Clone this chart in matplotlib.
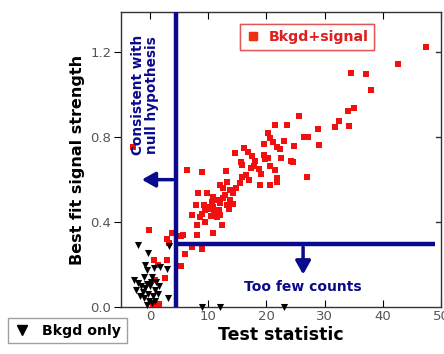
import matplotlib
matplotlib.use("Agg")
import matplotlib.pyplot as plt
from matplotlib.lines import Line2D

# Bkgd+signal points (test statistic, best fit signal strength)
sig_x = [47.4, 42.6, 34.5, 37.1, 38.0, 34.0, 35.1, 32.5, 31.8, 34.2, 28.9, 29.1,
         25.6, 23.5, 21.4, 26.5, 27.2, 20.2, 20.6, 21.1, 23.0, 24.8, 22.3, 21.8,
         14.6, 16.2, 16.9, 17.5, 19.5, 20.3, 24.3, 24.5, 15.6, 15.8, 17.3, 17.9,
         19.8, 20.6, 18.8, 19.0, 21.5, 21.8, 21.9, 20.6, 18.9, 26.9, 6.4, 8.9,
         13.0, 13.2, 15.8, 15.5, 12.0, 12.6, 13.7, 14.3, 8.3, 9.8, 10.9, 11.5,
         10.6, 12.6, 13.7, 7.9, 9.2, 10.0, 10.9, 12.0, 13.2, 14.2, 9.5, 10.3,
         7.2, 8.6, 9.5, 11.5, 12.3, 8.0, 10.9, 8.0, 5.7, 12.0, -2.9, -0.1,
         2.9, 3.7, 3.3, 5.4, 7.2, 8.9, 6.0, 5.3, 0.6, 2.9, 1.4, 2.6, 0.9, 1.6,
         0.5, 11.0, 11.8, 10.5, 9.0, 12.8, 13.5, 14.8, 16.5, 17.0, 18.0, 22.5, 19.5]
sig_y = [1.225, 1.147, 1.104, 1.098, 1.024, 0.924, 0.938, 0.875, 0.847, 0.852, 0.839, 0.765,
         0.899, 0.858, 0.858, 0.800, 0.800, 0.820, 0.794, 0.778, 0.781, 0.758, 0.744, 0.754,
         0.726, 0.747, 0.731, 0.711, 0.715, 0.701, 0.690, 0.681, 0.681, 0.668, 0.657, 0.665,
         0.695, 0.664, 0.648, 0.629, 0.645, 0.606, 0.587, 0.574, 0.574, 0.613, 0.645, 0.634,
         0.642, 0.590, 0.613, 0.585, 0.574, 0.559, 0.551, 0.535, 0.535, 0.538, 0.519, 0.504,
         0.496, 0.512, 0.504, 0.480, 0.480, 0.469, 0.472, 0.488, 0.480, 0.485, 0.456, 0.460,
         0.433, 0.422, 0.401, 0.422, 0.386, 0.386, 0.347, 0.339, 0.339, 0.433, 0.754, 0.362,
         0.319, 0.347, 0.303, 0.334, 0.284, 0.271, 0.249, 0.194, 0.221, 0.221, 0.198, 0.135, 0.127, 0.014,
         0.014, 0.450, 0.455, 0.430, 0.440, 0.530, 0.460, 0.560, 0.620, 0.600, 0.690, 0.700, 0.770]

# Bkgd only points
bkg_x = [-2.0, -0.3, 3.3, 1.7, 2.9, -0.9, -0.6, 0.6, -2.7, -2.0, -1.1, 0.3, 1.0, 3.1,
         9.0, 12.0, 23.0, -1.5, -0.8, 0.0, 0.8, -1.2, -0.3, 0.5, 1.3, -1.0, -0.2, 0.3,
         -0.6, 0.9, -1.8, 0.1, -0.5, 1.5, -2.4]
bkg_y = [0.292, 0.256, 0.287, 0.190, 0.177, 0.198, 0.174, 0.182, 0.127, 0.114, 0.143, 0.140,
         0.119, 0.040, 0.0, 0.0, 0.0, 0.10, 0.09, 0.10, 0.08, 0.07, 0.06, 0.05, 0.06, 0.04,
         0.03, 0.02, 0.01, 0.03, 0.05, 0.12, 0.11, 0.10, 0.08]

x_ticks = [0, 10, 20, 30, 40, 50]
y_ticks = [0.0, 0.4, 0.8, 1.2]
y_ticklabels = ["0.0", "0.4", "0.8", "1.2"]

cut_x = 4.4
cut_y = 0.295
blue = "#0a0a8c"

fig = plt.figure(figsize=(4.44, 3.54), dpi=100)
ax = fig.add_axes([0.2725, 0.1328, 0.7207, 0.8333])

ax.scatter(sig_x, sig_y, marker="s", s=22, color="#f01010", linewidths=0, zorder=3)
ax.scatter(bkg_x, bkg_y, marker="v", s=26, color="black", linewidths=0, zorder=4, clip_on=False)

ax.set_xlim(-5, 50)
ax.set_ylim(0, 1.39)

ax.axvline(cut_x, color=blue, lw=3.2, zorder=5)
ax.plot([cut_x, 49], [cut_y, cut_y], color=blue, lw=3.2, zorder=5, solid_capstyle="butt")

ax.annotate("", xy=(-1.9, 0.6), xytext=(cut_x, 0.6),
            arrowprops=dict(arrowstyle="-|>,head_width=0.45,head_length=0.8",
                            color=blue, lw=2.5), zorder=6)
ax.annotate("", xy=(26.3, 0.14), xytext=(26.3, cut_y),
            arrowprops=dict(arrowstyle="-|>,head_width=0.45,head_length=0.8",
                            color=blue, lw=2.5), zorder=6)

ax.text(-0.9, 1.0, "Consistent with\nnull hypothesis", rotation=90, color=blue,
        fontsize=9.8, fontweight="bold", ha="center", va="center", linespacing=1.0)
ax.text(26.3, 0.094, "Too few counts", color=blue, fontsize=10, fontweight="bold",
        ha="center", va="center")

ax.set_xticks(x_ticks)
ax.set_yticks(y_ticks)
ax.set_yticklabels(y_ticklabels)
ax.tick_params(axis="x", direction="in", top=True, length=5, labelsize=9.5,
               labelcolor="#555555", pad=2)
ax.tick_params(axis="y", direction="out", right=False, length=5, labelsize=9.5,
               labelcolor="#555555", pad=2)
for yt in y_ticks[1:]:
    ax.plot([1.0, 0.985], [yt, yt], transform=ax.get_yaxis_transform(), color="#333333", lw=1)
for s in ax.spines.values():
    s.set_color("#333333")
    s.set_linewidth(1.0)

ax.set_xlabel("Test statistic", fontsize=12.5, fontweight="bold", labelpad=2)
ax.set_ylabel("Best fit signal strength", fontsize=11.5, fontweight="bold", labelpad=4)

h1 = Line2D([], [], marker="s", color="#f03010", ls="none", markersize=6)
leg1 = ax.legend([h1], ["Bkgd+signal"], loc="upper left", bbox_to_anchor=(0.372, 0.958),
                 borderaxespad=0, frameon=True, fancybox=False, edgecolor="#e04040",
                 handletextpad=0.6, borderpad=0.4, handlelength=1.0,
                 prop=dict(size=10.2, weight="bold"))
for t in leg1.get_texts():
    t.set_color("#e02020")
leg1.get_frame().set_linewidth(1.0)
ax.add_artist(leg1)

h2 = Line2D([], [], marker="v", color="black", ls="none", markersize=7)
leg2 = fig.legend([h2], ["Bkgd only"], loc="upper left", bbox_to_anchor=(0.018, 0.102),
                  borderaxespad=0, frameon=True, fancybox=False, edgecolor="#888888",
                  handletextpad=0.8, borderpad=0.4, handlelength=1.2,
                  prop=dict(size=10.2, weight="bold"))
leg2.get_frame().set_linewidth(1.0)

fig.savefig("out.png", dpi=100)
